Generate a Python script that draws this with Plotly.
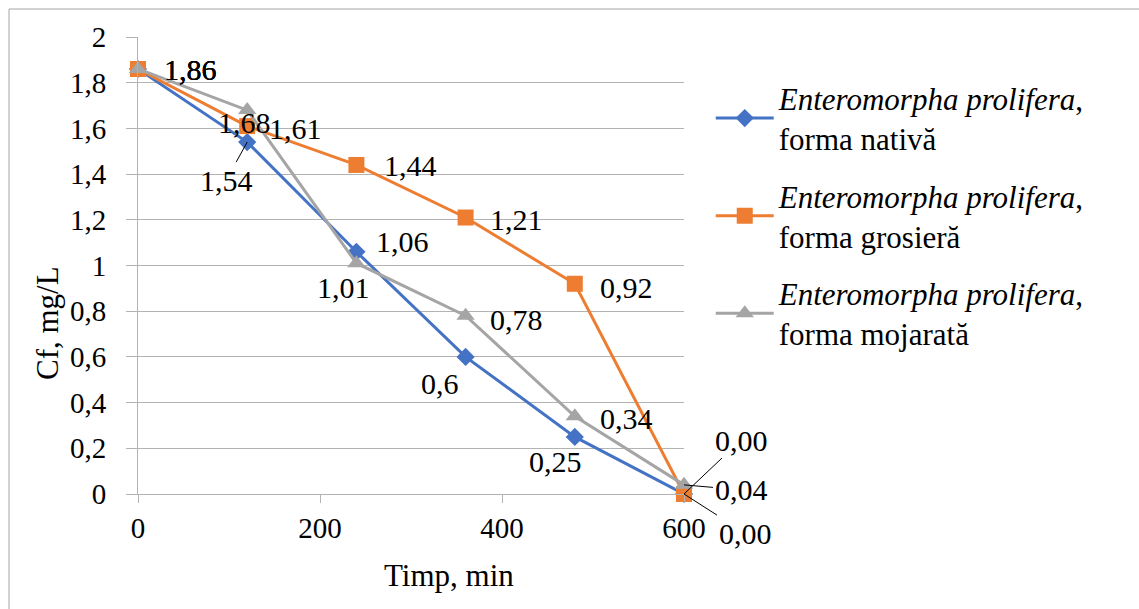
import plotly.graph_objects as go

time_min = [0, 120, 240, 360, 480, 600]
nativa = [1.86, 1.54, 1.06, 0.60, 0.25, 0.00]
grosiera = [1.86, 1.61, 1.44, 1.21, 0.92, 0.00]
mojarata = [1.86, 1.68, 1.01, 0.78, 0.34, 0.04]

nativa_labels = ["1,86", "1,54", "1,06", "0,6", "0,25", "0,00"]
grosiera_labels = ["1,86", "1,61", "1,44", "1,21", "0,92", "0,00"]
mojarata_labels = ["1,86", "1,68", "1,01", "0,78", "0,34", "0,04"]

series_names = [
    "<i>Enteromorpha prolifera</i>,<br>forma nativă",
    "<i>Enteromorpha prolifera</i>,<br>forma grosieră",
    "<i>Enteromorpha prolifera</i>,<br>forma mojarată",
]

x_title = "Timp, min"
y_title = "Cf, mg/L"
y_tickvals = [0, 0.2, 0.4, 0.6, 0.8, 1.0, 1.2, 1.4, 1.6, 1.8, 2.0]
y_ticktext = ["0", "0,2", "0,4", "0,6", "0,8", "1", "1,2", "1,4", "1,6", "1,8", "2"]
x_tickvals = [0, 200, 400, 600]

FONT = "Liberation Serif"
FS_TICK = 29
FS_LAB = 30
FS_TITLE = 31
FS_LEG = 31
colors = ["#4472C4", "#ED7D31", "#A5A5A5"]
symbols = ["diamond", "square", "triangle-up"]
msizes = [14, 16, 16]

fig = go.Figure()
for i, (vals, name) in enumerate(zip([nativa, grosiera, mojarata], series_names)):
    fig.add_trace(go.Scatter(
        x=time_min, y=vals, name=name, mode="lines+markers",
        line=dict(color=colors[i], width=3),
        marker=dict(symbol=symbols[i], size=msizes[i], color=colors[i]),
        cliponaxis=False, legendgroup=str(i),
    ))

# label offsets (pixels) for each series' points: (dx, dy, arrow)
offs_nat = [(52, 1, False), (-21, 38, True), (46, -10, False), (-26, 27, False), (-19, 25, False), (57, -54, True)]
offs_gro = [(52, 1, False), (48, 2, False), (54, 1, False), (51, 2, False), (52, 4, False), (61, 39, True)]
offs_moj = [(52, 1, False), (-3, 12, False), (-13, 24, False), (51, 4, False), (52, 2, False), (57, 5, True)]

for vals, labels, offs in [(nativa, nativa_labels, offs_nat),
                           (grosiera, grosiera_labels, offs_gro),
                           (mojarata, mojarata_labels, offs_moj)]:
    for xv, yv, lab, (dx, dy, arr) in zip(time_min, vals, labels, offs):
        if arr:
            fig.add_annotation(x=xv, y=yv, xref="x", yref="y", text=lab,
                               showarrow=True, arrowhead=0, arrowwidth=1,
                               arrowcolor="black", ax=dx, ay=dy,
                               font=dict(family=FONT, size=FS_LAB, color="black"))
        else:
            fig.add_annotation(x=xv, y=yv, xref="x", yref="y", text=lab,
                               showarrow=False, xshift=dx, yshift=-dy,
                               font=dict(family=FONT, size=FS_LAB, color="black"))

titlefont = dict(family=FONT, size=FS_TITLE, color="black")
# axis titles (placed as in the reference, offset from the axis centre)
fig.add_annotation(text=x_title, xref="paper", yref="paper",
                   x=(449 - 138) / 546, y=(494 - 575) / 457,
                   xanchor="center", yanchor="middle", showarrow=False,
                   font=titlefont)
fig.add_annotation(text=y_title, xref="paper", yref="paper",
                   x=(47 - 138) / 546, y=(494 - 323) / 457, textangle=-90,
                   xanchor="center", yanchor="middle", showarrow=False,
                   font=titlefont)

# chart frame
fig.add_shape(type="rect", xref="paper", yref="paper",
              x0=(9 - 138) / 546, x1=(1145 - 138) / 546,
              y0=(494 - 620) / 457, y1=(494 - 9) / 457,
              line=dict(color="#a6a6a6", width=1), layer="below")

grid = "#b3b3b3"
tickfont = dict(family=FONT, size=FS_TICK, color="black")
fig.update_layout(
    width=1139, height=609,
    margin=dict(l=138, r=455, t=37, b=115, autoexpand=False),
    paper_bgcolor="white", plot_bgcolor="white",
    showlegend=True,
    legend=dict(xref="container", yref="container", x=0.624, y=0.883,
                xanchor="left", yanchor="top", itemwidth=58,
                font=dict(family=FONT, size=FS_LEG, color="black"),
                tracegroupgap=14, bgcolor="rgba(0,0,0,0)"),
    xaxis=dict(range=[0, 600], tickvals=x_tickvals, showgrid=False,
               showline=True, linecolor=grid, linewidth=1,
               ticks="outside", ticklen=8, tickcolor=grid,
               tickfont=tickfont,
               zeroline=False, automargin=False),
    yaxis=dict(range=[0, 2], tickvals=y_tickvals, ticktext=y_ticktext,
               showgrid=True, gridcolor=grid, gridwidth=1,
               showline=True, linecolor=grid, linewidth=1,
               ticks="outside", ticklen=11, tickcolor=grid,
               ticklabelstandoff=14, tickfont=tickfont,
               zeroline=False, automargin=False),
)

fig.write_html("out.html")
